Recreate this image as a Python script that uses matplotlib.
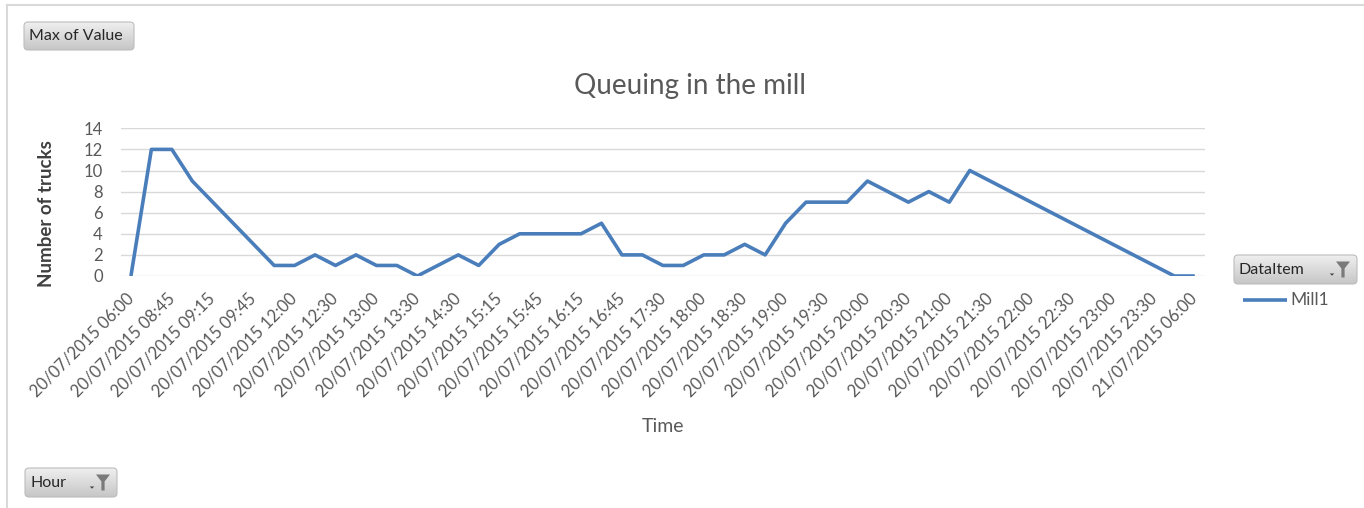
import numpy as np
import matplotlib
matplotlib.use("Agg")
import matplotlib.pyplot as plt
from matplotlib.patches import FancyBboxPatch, Polygon
from matplotlib.colors import LinearSegmentedColormap

# ---------------- data ----------------
time_labels = [
    "20/07/2015 06:00", "20/07/2015 08:30", "20/07/2015 08:45", "20/07/2015 09:00",
    "20/07/2015 09:15", "20/07/2015 09:30", "20/07/2015 09:45", "20/07/2015 11:45",
    "20/07/2015 12:00", "20/07/2015 12:15", "20/07/2015 12:30", "20/07/2015 12:45",
    "20/07/2015 13:00", "20/07/2015 13:15", "20/07/2015 13:30", "20/07/2015 14:00",
    "20/07/2015 14:30", "20/07/2015 15:00", "20/07/2015 15:15", "20/07/2015 15:30",
    "20/07/2015 15:45", "20/07/2015 16:00", "20/07/2015 16:15", "20/07/2015 16:30",
    "20/07/2015 16:45", "20/07/2015 17:15", "20/07/2015 17:30", "20/07/2015 17:45",
    "20/07/2015 18:00", "20/07/2015 18:15", "20/07/2015 18:30", "20/07/2015 18:45",
    "20/07/2015 19:00", "20/07/2015 19:15", "20/07/2015 19:30", "20/07/2015 19:45",
    "20/07/2015 20:00", "20/07/2015 20:15", "20/07/2015 20:30", "20/07/2015 20:45",
    "20/07/2015 21:00", "20/07/2015 21:15", "20/07/2015 21:30", "20/07/2015 21:45",
    "20/07/2015 22:00", "20/07/2015 22:15", "20/07/2015 22:30", "20/07/2015 22:45",
    "20/07/2015 23:00", "20/07/2015 23:15", "20/07/2015 23:30", "20/07/2015 23:45",
    "21/07/2015 06:00",
]
mill1 = [0, 12, 12, 9, 7, 5, 3, 1, 1, 2, 1, 2, 1, 1, 0, 1, 2, 1, 3, 4,
         4, 4, 4, 5, 2, 2, 1, 1, 2, 2, 3, 2, 5, 7, 7, 7, 9, 8, 7, 8,
         7, 10, 9, 8, 7, 6, 5, 4, 3, 2, 1, 0, 0]
series_name = "Mill1"
y_ticks = [0, 2, 4, 6, 8, 10, 12, 14]

# ---------------- figure ----------------
plt.rcParams['font.family'] = ['Lato', 'DejaVu Sans']
W, H = 1364, 508
fig = plt.figure(figsize=(W / 100, H / 100), dpi=100)
fig.patch.set_facecolor('white')

deco = fig.add_axes([0, 0, 1, 1])
deco.axis('off')

LINE_COLOR = '#4A7EBB'
TXT = '#595959'

# chart frame
deco.plot([7, W], [5, 5], color='#d9d9d9', lw=1.5)
deco.plot([7, 7], [5, H], color='#d9d9d9', lw=1.5)

# main plot
ax = fig.add_axes([120.7 / W, 1 - 276 / H, (1205 - 120.7) / W, (276 - 128.3) / H])
ax.set_facecolor('none')
x = np.arange(len(mill1))
ax.plot(x, mill1, color=LINE_COLOR, lw=2.6, solid_joinstyle='round',
        solid_capstyle='butt', zorder=3)
ax.set_xlim(-0.5, len(mill1) - 0.5)
ax.set_ylim(0, 14)
ax.set_yticks(y_ticks)
ax.yaxis.grid(True, color='#d9d9d9', lw=1)
ax.set_axisbelow(True)
for s in ax.spines.values():
    s.set_visible(False)
ax.tick_params(axis='y', length=0, pad=13, labelsize=12, labelcolor=TXT)
ax.set_xticks(x[::2])
ax.set_xticklabels(time_labels[::2], rotation=45, ha='right', va='center',
                   rotation_mode='anchor')
ax.tick_params(axis='x', length=0, pad=14, labelsize=12, labelcolor=TXT)

# texts
deco.text(690, 86, 'Queuing in the mill', ha='center', va='center',
          fontsize=20, color=TXT)
deco.text(47, 214, 'Number of trucks', ha='center', va='center', rotation=90,
          fontsize=13.5, fontweight='bold', color='#404040')
deco.text(663, 427, 'Time', ha='center', va='center', fontsize=14, color=TXT)

# legend
deco.plot([1243, 1287], [300, 300], color=LINE_COLOR, lw=2.6, solid_capstyle='butt')
deco.text(1290, 300, series_name, ha='left', va='center', fontsize=12.5, color=TXT)

# field buttons
cmap = LinearSegmentedColormap.from_list('btn', ['#efefef', '#c6c6c6'])


def button(x0, y0, x1, y1, label, funnel=False):
    patch = FancyBboxPatch((x0, y0), x1 - x0, y1 - y0,
                           boxstyle='round,pad=0,rounding_size=4',
                           facecolor='none', edgecolor='#bdbdbd', lw=0.8,
                           zorder=2)
    deco.add_patch(patch)
    grad = np.linspace(0, 1, 64).reshape(-1, 1)
    im = deco.imshow(grad, cmap=cmap, extent=[x0, x1, y1, y0], aspect='auto',
                     origin='upper', zorder=1, interpolation='bilinear')
    im.set_clip_path(patch)
    deco.text(x0 + 5, (y0 + y1) / 2 + 0.5, label, ha='left', va='center',
              fontsize=11.5, color='#262626', zorder=3)
    if funnel:
        fx, fy = x1 - 14, (y0 + y1) / 2
        pts = [(-7, -8), (7, -8), (1.6, -1), (1.6, 8), (-1.6, 8), (-1.6, -1)]
        deco.add_patch(Polygon([(fx + a, fy + b) for a, b in pts], closed=True,
                               facecolor='#7a7a7a', edgecolor='none', zorder=3))
        tri = [(-2.2, 4), (2.2, 4), (0, 6.2)]
        deco.add_patch(Polygon([(fx - 11 + a, fy + b) for a, b in tri], closed=True,
                               facecolor='#404040', edgecolor='none', zorder=3))


button(24, 22, 134, 50, 'Max of Value')
button(25, 468, 117, 497, 'Hour', funnel=True)
button(1234, 255, 1357, 284, 'DataItem', funnel=True)

deco.set_xlim(0, W)
deco.set_ylim(H, 0)

fig.savefig('out.png', dpi=100, facecolor='white')
